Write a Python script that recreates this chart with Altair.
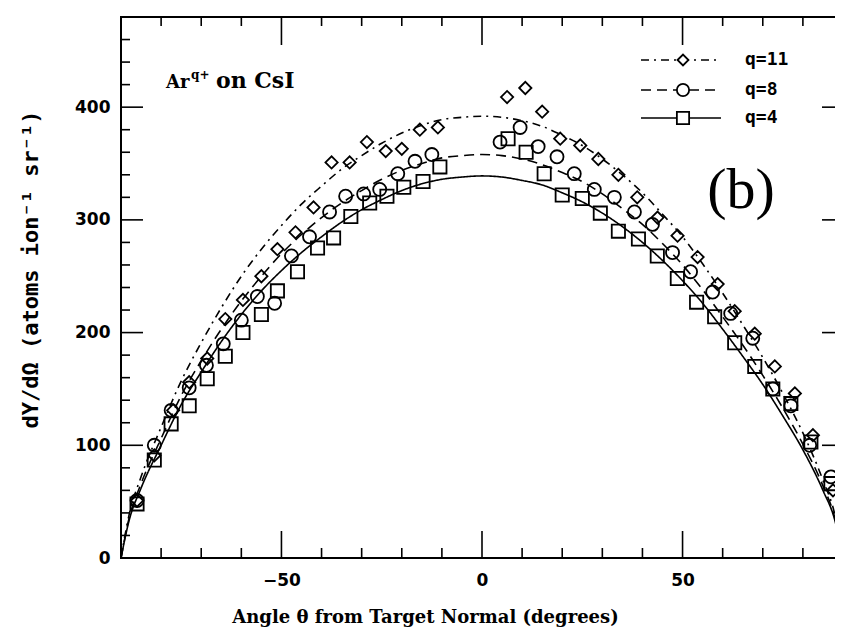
import altair as alt
import pandas as pd

# ---------------- data ----------------
q11_x = [-86, -81.7, -77, -73, -68.5, -64, -59.6, -55, -51, -46.5, -42, -37.5, -33, -28.7, -24, -20, -15.5, -11,
         6.25, 10.8, 15, 19.5, 24.5, 29, 34, 38.7, 43.75, 48.75, 53.75, 58.75, 63, 68, 73, 78, 82.5, 87.5]
q11_y = [51, 91, 131, 156, 177, 212, 229, 250, 274, 289, 311, 351, 351, 369, 361, 363, 380, 382,
         409, 417, 396, 372, 366, 354, 340, 320, 302, 286, 267, 243, 219, 199, 170, 146, 109, 60]

q8_x = [-86, -81.7, -77.5, -73, -68.7, -64.5, -60, -56, -51.7, -47.5, -43, -38, -34, -29.5, -25.5, -21, -16.7, -12.5,
        4.5, 9.5, 14, 18.7, 23, 28, 33, 38, 42.5, 47.5, 52, 57.5, 62, 67.5, 72.5, 77, 81.7, 87]
q8_y = [51, 100, 131, 151, 171, 190, 211, 232, 226, 268, 285, 307, 321, 323, 327, 341, 352, 358,
        369, 382, 365, 356, 341, 327, 320, 307, 296, 271, 254, 236, 217, 195, 150, 135, 100, 72]

q4_x = [-86, -81.7, -77.5, -73, -68.5, -64, -59.6, -55, -51, -46, -41, -37, -32.7, -28, -23.7, -19.5, -14.7, -10.5,
        6.5, 11, 15.5, 20, 25, 29.5, 34, 39, 43.7, 48.7, 53.5, 58, 63, 68, 72.5, 77, 82, 87]
q4_y = [48, 87, 119, 135, 159, 179, 200, 216, 237, 254, 275, 284, 303, 315, 321, 329, 334, 347,
        372, 360, 341, 322, 319, 306, 290, 283, 268, 248, 227, 214, 191, 170, 150, 137, 103, 66]

curve_x = [-90, -88, -85, -80, -75, -70, -65, -60, -55, -50, -45, -40, -35, -30, -25, -20, -15, -10, -5, 0,
           5, 10, 15, 20, 25, 30, 35, 40, 45, 50, 55, 60, 65, 70, 75, 80, 85, 88, 90]
curve_q4 = [0, 33, 62, 100, 136, 165, 192, 216, 237, 255, 271, 285, 298, 309, 318, 326, 332, 336, 338, 339,
            338, 335, 331, 324, 316, 306, 294, 280, 264, 246, 226, 203, 179, 154, 126, 96, 60, 33, 0]
curve_q8 = [0, 35, 66, 106, 144, 175, 203, 228, 250, 270, 287, 302, 315, 326, 336, 344, 350, 355, 357, 358,
            357, 354, 349, 342, 334, 323, 310, 296, 279, 260, 238, 214, 189, 162, 133, 101, 64, 35, 0]
curve_q11 = [0, 38, 72, 116, 157, 191, 222, 250, 274, 295, 314, 330, 345, 357, 368, 377, 384, 389, 391, 392,
             391, 388, 383, 375, 366, 354, 340, 324, 305, 285, 261, 235, 207, 178, 146, 111, 69, 38, 0]

series_labels = ["q=11", "q=8", "q=4"]

x_label_values = [-50, 0, 50]
y_label_values = [0, 100, 200, 300, 400]
x_major = [-50, 0, 50]
x_minor = [-80, -70, -60, -40, -30, -20, -10, 10, 20, 30, 40, 60, 70, 80]
y_major = [100, 200, 300, 400]
y_minor = [20, 40, 60, 80, 120, 140, 160, 180, 220, 240, 260, 280, 320, 340, 360, 380, 420, 440, 460]

x_title = "Angle θ from Target Normal (degrees)"
y_title = "dY/dΩ (atoms ion⁻¹ sr⁻¹)"

# ---------------- layout / style ----------------
W, H = 722, 541
xs = alt.Scale(domain=[-90, 90], nice=False, zero=False)
ys = alt.Scale(domain=[0, 480], nice=False, zero=False)
TITLE_FONT = "DejaVu Serif"
LABEL_FONT = "DejaVu Sans"

x_axis = alt.Axis(values=x_label_values, ticks=False, domain=False, grid=False, format="d",
                  labelFont=LABEL_FONT, labelFontSize=17, labelFontWeight="bold", labelColor="black",
                  labelPadding=14, title=x_title, titleFont=TITLE_FONT, titleFontSize=18,
                  titleFontWeight="bold", titleColor="black", titleX=304, titleY=59,
                  titleBaseline="middle", titleAlign="center")
y_axis = alt.Axis(values=y_label_values, ticks=False, domain=False, grid=False, format="d",
                  labelFont=LABEL_FONT, labelFontSize=17, labelFontWeight="bold", labelColor="black",
                  labelPadding=11, title=y_title, titleFont="DejaVu Sans Mono", titleFontSize=22,
                  titleFontWeight="bold", titleColor="black", titleX=-91, titleY=252,
                  titleBaseline="middle", titleAlign="center", titleAngle=270)


def X(field):
    return alt.X(field, type="quantitative", scale=xs, axis=x_axis)


def Y(field):
    return alt.Y(field, type="quantitative", scale=ys, axis=y_axis)


layers = []

# curves
curve_df = pd.DataFrame({"x": curve_x, "q4": curve_q4, "q8": curve_q8, "q11": curve_q11})
dashes = {"q11": [8, 5, 2, 5], "q8": [10, 6], "q4": [1, 0]}
for col in ["q11", "q8", "q4"]:
    layers.append(
        alt.Chart(curve_df).mark_line(color="black", strokeWidth=1.6, strokeDash=dashes[col],
                                      interpolate="monotone")
        .encode(x=X("x"), y=Y(col))
    )

# points
pts = [(q11_x, q11_y, "diamond", 150), (q8_x, q8_y, "circle", 170), (q4_x, q4_y, "square", 175)]
for xv, yv, shape, size in pts:
    df = pd.DataFrame({"x": xv, "y": yv})
    layers.append(
        alt.Chart(df).mark_point(shape=shape, size=size, filled=False, color="black", strokeWidth=1.8, opacity=1)
        .encode(x=X("x"), y=Y("y"))
    )


# inward ticks on all four sides
def xticks(vals, length, top):
    df = pd.DataFrame({"v": vals})
    y0, y1 = (0, length) if top else (H, H - length)
    return alt.Chart(df).mark_rule(color="black", strokeWidth=1.6).encode(
        x=X("v"), y=alt.value(y0), y2=alt.value(y1))


def yticks(vals, length, right):
    df = pd.DataFrame({"v": vals})
    x0, x1 = (W, W - length) if right else (0, length)
    return alt.Chart(df).mark_rule(color="black", strokeWidth=1.6).encode(
        y=Y("v"), x=alt.value(x0), x2=alt.value(x1))


layers += [xticks(x_major, 27, False), xticks(x_minor, 10, False),
           xticks(x_major, 28, True), xticks(x_minor, 9, True),
           yticks(y_major, 22, False), yticks(y_minor, 9, False),
           yticks(y_major, 21, True), yticks(y_minor, 7, True)]

# legend (built by hand: line + marker + label)
leg_rows = [43, 73, 101]
leg_shapes = ["diamond", "circle", "square"]
leg_sizes = [120, 150, 150]
leg_dash = [[8, 5, 2, 5], [10, 6], [1, 0]]
for lab, py, shp, sz, dsh in zip(series_labels, leg_rows, leg_shapes, leg_sizes, leg_dash):
    ldf = pd.DataFrame({"label": [lab]})
    layers.append(alt.Chart(ldf).mark_rule(color="black", strokeWidth=1.6, strokeDash=dsh).encode(
        x=alt.value(520), x2=alt.value(600), y=alt.value(py)))
    layers.append(alt.Chart(ldf).mark_point(shape=shp, size=sz, filled=True, fill="white", stroke="black",
                                            strokeWidth=1.8, opacity=1, fillOpacity=1, strokeOpacity=1).encode(
        x=alt.value(562), y=alt.value(py)))
    layers.append(alt.Chart(ldf).mark_text(align="left", baseline="middle", font="DejaVu Sans Mono",
                                           fontSize=18, fontWeight="bold", color="black").encode(
        x=alt.value(624), y=alt.value(py), text="label:N"))

# annotations
ann = pd.DataFrame({"t": ["Ar", "q+", "on CsI", "(b)"]})
layers.append(alt.Chart(ann).transform_filter("datum.t == 'Ar'").mark_text(
    align="left", baseline="alphabetic", font=TITLE_FONT, fontSize=18, fontWeight="bold", color="black"
).encode(x=alt.value(45), y=alt.value(71), text="t:N"))
layers.append(alt.Chart(ann).transform_filter("datum.t == 'q+'").mark_text(
    align="left", baseline="alphabetic", font=TITLE_FONT, fontSize=12, fontWeight="bold", color="black"
).encode(x=alt.value(70), y=alt.value(62), text="t:N"))
layers.append(alt.Chart(ann).transform_filter("datum.t == 'on CsI'").mark_text(
    align="left", baseline="alphabetic", font=TITLE_FONT, fontSize=22, fontWeight="bold", color="black"
).encode(x=alt.value(95), y=alt.value(71), text="t:N"))
layers.append(alt.Chart(ann).transform_filter("datum.t == '(b)'").mark_text(
    align="center", baseline="middle", font="Liberation Serif", fontSize=58, color="black"
).encode(x=alt.value(620), y=alt.value(174), text="t:N"))

chart = alt.layer(*layers).properties(
    width=W, height=H,
    padding={"left": 113, "top": 9, "right": -8, "bottom": 70},
    autosize=alt.AutoSizeParams(type="none"),
    background="white",
).configure_view(stroke="black", strokeWidth=2)

chart.save("out.html", embed_options={"renderer": "svg", "actions": False})
